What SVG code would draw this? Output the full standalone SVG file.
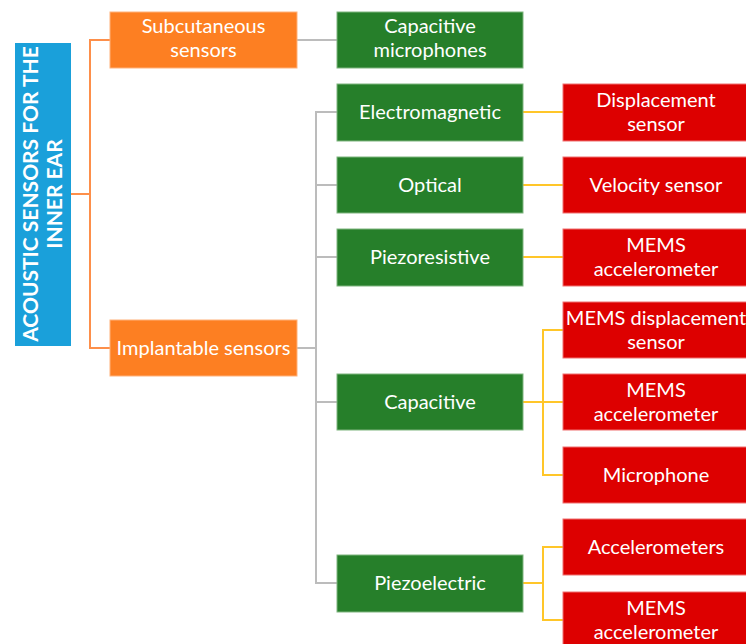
<svg xmlns="http://www.w3.org/2000/svg" width="746" height="644" viewBox="0 0 746 644">
<style>
.t{font-family:Lato,"Open Sans","Liberation Sans",sans-serif;font-size:20px;fill:#fff;text-anchor:middle}
.b{fill:#1aa0da}
.o{fill:#fd7f22;stroke:#ffb27a;stroke-width:1}
.g{fill:#267f2a;stroke:#7fb57f;stroke-width:1}
.r{fill:#dd0000;stroke:#f07070;stroke-width:1}
.lo{stroke:#fd8f4a;stroke-width:2;fill:none}
.lg{stroke:#bcbcbc;stroke-width:2;fill:none}
.ly{stroke:#ffc629;stroke-width:2;fill:none}
</style>
<rect width="746" height="644" fill="#fff"/>
<g id="connectors">
<path class="lo" d="M71 194H90M110 40H90V348H110"/>
<path class="lg" d="M297 40H337M297 348H316M337 112H316V583H337M316 185H337M316 257H337M316 402H337"/>
<path class="ly" d="M523 112H563M523 185H563M523 257H563M523 402H543M563 330H543V475H563M543 402H563M523 583H543M563 547H543V620H563"/>
</g>
<g id="root"><rect class="b" x="15" y="43" width="56" height="303"/>
<text class="t" transform="translate(43 194) rotate(-90)" style="font-weight:bold;font-size:21px"><tspan x="0" y="-5">ACOUSTIC  SENSORS FOR THE</tspan><tspan x="0" y="19">INNER EAR</tspan></text></g>
<g id="subcutaneous"><rect class="o" x="110" y="12" width="187" height="56"/><text class="t"><tspan x="203.5" y="33">Subcutaneous</tspan><tspan x="203.5" y="57">sensors</tspan></text></g>
<g id="implantable"><rect class="o" x="110" y="320" width="187" height="56"/><text class="t" x="203.5" y="355">Implantable sensors</text></g>
<g id="capmic"><rect class="g" x="337" y="12" width="186" height="56"/><text class="t"><tspan x="430" y="33">Capacitive</tspan><tspan x="430" y="57">microphones</tspan></text></g>
<g id="electromagnetic"><rect class="g" x="337" y="84" width="186" height="57"/><text class="t" x="430" y="119">Electromagnetic</text></g>
<g id="optical"><rect class="g" x="337" y="157" width="186" height="56"/><text class="t" x="430" y="192">Optical</text></g>
<g id="piezoresistive"><rect class="g" x="337" y="229" width="186" height="57"/><text class="t" x="430" y="264">Piezoresistive</text></g>
<g id="capacitive"><rect class="g" x="337" y="374" width="186" height="56"/><text class="t" x="430" y="409">Capacitive</text></g>
<g id="piezoelectric"><rect class="g" x="337" y="555" width="186" height="57"/><text class="t" x="430" y="590">Piezoelectric</text></g>
<g id="displacement"><rect class="r" x="563" y="84" width="190" height="57"/><text class="t"><tspan x="656" y="107">Displacement</tspan><tspan x="656" y="131">sensor</tspan></text></g>
<g id="velocity"><rect class="r" x="563" y="157" width="190" height="56"/><text class="t" x="656" y="192">Velocity sensor</text></g>
<g id="memsacc1"><rect class="r" x="563" y="229" width="190" height="57"/><text class="t"><tspan x="656" y="252">MEMS</tspan><tspan x="656" y="276">accelerometer</tspan></text></g>
<g id="memsdisp"><rect class="r" x="563" y="302" width="190" height="56"/><text class="t"><tspan x="656" y="325">MEMS displacement</tspan><tspan x="656" y="349">sensor</tspan></text></g>
<g id="memsacc2"><rect class="r" x="563" y="374" width="190" height="56"/><text class="t"><tspan x="656" y="397">MEMS</tspan><tspan x="656" y="421">accelerometer</tspan></text></g>
<g id="microphone"><rect class="r" x="563" y="447" width="190" height="56"/><text class="t" x="656" y="482">Microphone</text></g>
<g id="accelerometers"><rect class="r" x="563" y="519" width="190" height="56"/><text class="t" x="656" y="554">Accelerometers</text></g>
<g id="memsacc3"><rect class="r" x="563" y="592" width="190" height="56"/><text class="t"><tspan x="656" y="615">MEMS</tspan><tspan x="656" y="639">accelerometer</tspan></text></g>
</svg>
